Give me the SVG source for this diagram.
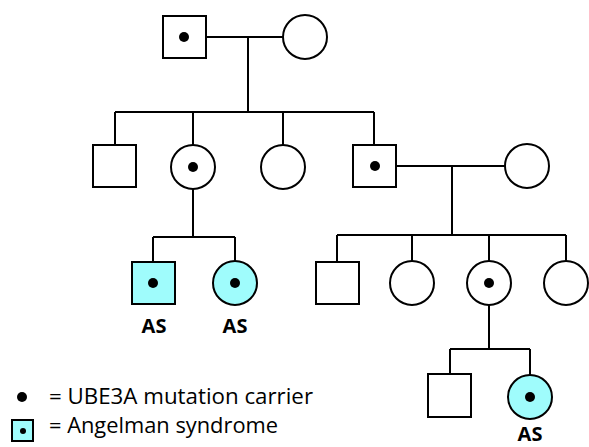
<svg xmlns="http://www.w3.org/2000/svg" width="589" height="447" viewBox="0 0 589 447">
<style>
.n{fill:#fff;stroke:#000;stroke-width:2}
.a{fill:#9ffcfc;stroke:#000;stroke-width:2}
.d{fill:#000}
.c{fill:none;stroke:#000;stroke-width:2}
.lb{font-family:"Open Sans","Liberation Sans",sans-serif;font-weight:bold;font-size:20px;text-anchor:middle}
.lg{font-family:"Open Sans","Liberation Sans",sans-serif;font-size:21px}
</style>
<rect width="589" height="447" fill="#fff"/>
<g id="connectors">
<path class="c" d="M206 37H283M248 37V112M115 112H374M115 112V145M193 112V145M283 112V145M374 112V145"/>
<path class="c" d="M396 166H505M452 166V235M337 235H566M337 235V262M412 235V261M489 235V261M566 235V261"/>
<path class="c" d="M193 189V237M153 237H235M153 237V262M235 237V261"/>
<path class="c" d="M489 305V349M450 349H530M450 349V374M530 349V375"/>
</g>
<g id="gp_father"><rect class="n" x="163" y="16" width="43" height="42"/><circle class="d" cx="184" cy="37" r="5"/></g>
<g id="gp_mother"><circle class="n" cx="305" cy="37" r="22"/></g>
<g id="son1"><rect class="n" x="93" y="145" width="43" height="42"/></g>
<g id="dau1"><circle class="n" cx="193" cy="167" r="22"/><circle class="d" cx="193" cy="167" r="5"/></g>
<g id="dau2"><circle class="n" cx="283" cy="167" r="22"/></g>
<g id="son2"><rect class="n" x="353" y="145" width="43" height="42"/><circle class="d" cx="375" cy="166" r="5"/></g>
<g id="son2_wife"><circle class="n" cx="527" cy="166" r="22"/></g>
<g id="gc1"><rect class="a" x="132" y="262" width="43" height="42"/><circle class="d" cx="153" cy="283" r="5"/><text class="lb" x="154" y="333">AS</text></g>
<g id="gc2"><circle class="a" cx="235" cy="283" r="22"/><circle class="d" cx="235" cy="283" r="5"/><text class="lb" x="235" y="333">AS</text></g>
<g id="gc3"><rect class="n" x="316" y="262" width="43" height="42"/></g>
<g id="gc4"><circle class="n" cx="412" cy="283" r="22"/></g>
<g id="gc5"><circle class="n" cx="489" cy="283" r="22"/><circle class="d" cx="489" cy="283" r="5"/></g>
<g id="gc6"><circle class="n" cx="566" cy="283" r="22"/></g>
<g id="ggc1"><rect class="n" x="428" y="374" width="43" height="43"/></g>
<g id="ggc2"><circle class="a" cx="530" cy="397" r="22"/><circle class="d" cx="530" cy="397" r="5"/><text class="lb" x="530" y="441">AS</text></g>
<g id="legend">
<circle class="d" cx="22" cy="397" r="5"/>
<text class="lg" x="49" y="404" textLength="264" lengthAdjust="spacingAndGlyphs">= UBE3A mutation carrier</text>
<rect class="a" x="12" y="420" width="21" height="21"/>
<circle class="d" cx="23" cy="431" r="3"/>
<text class="lg" x="49" y="433" textLength="229" lengthAdjust="spacingAndGlyphs">= Angelman syndrome</text>
</g>
</svg>
